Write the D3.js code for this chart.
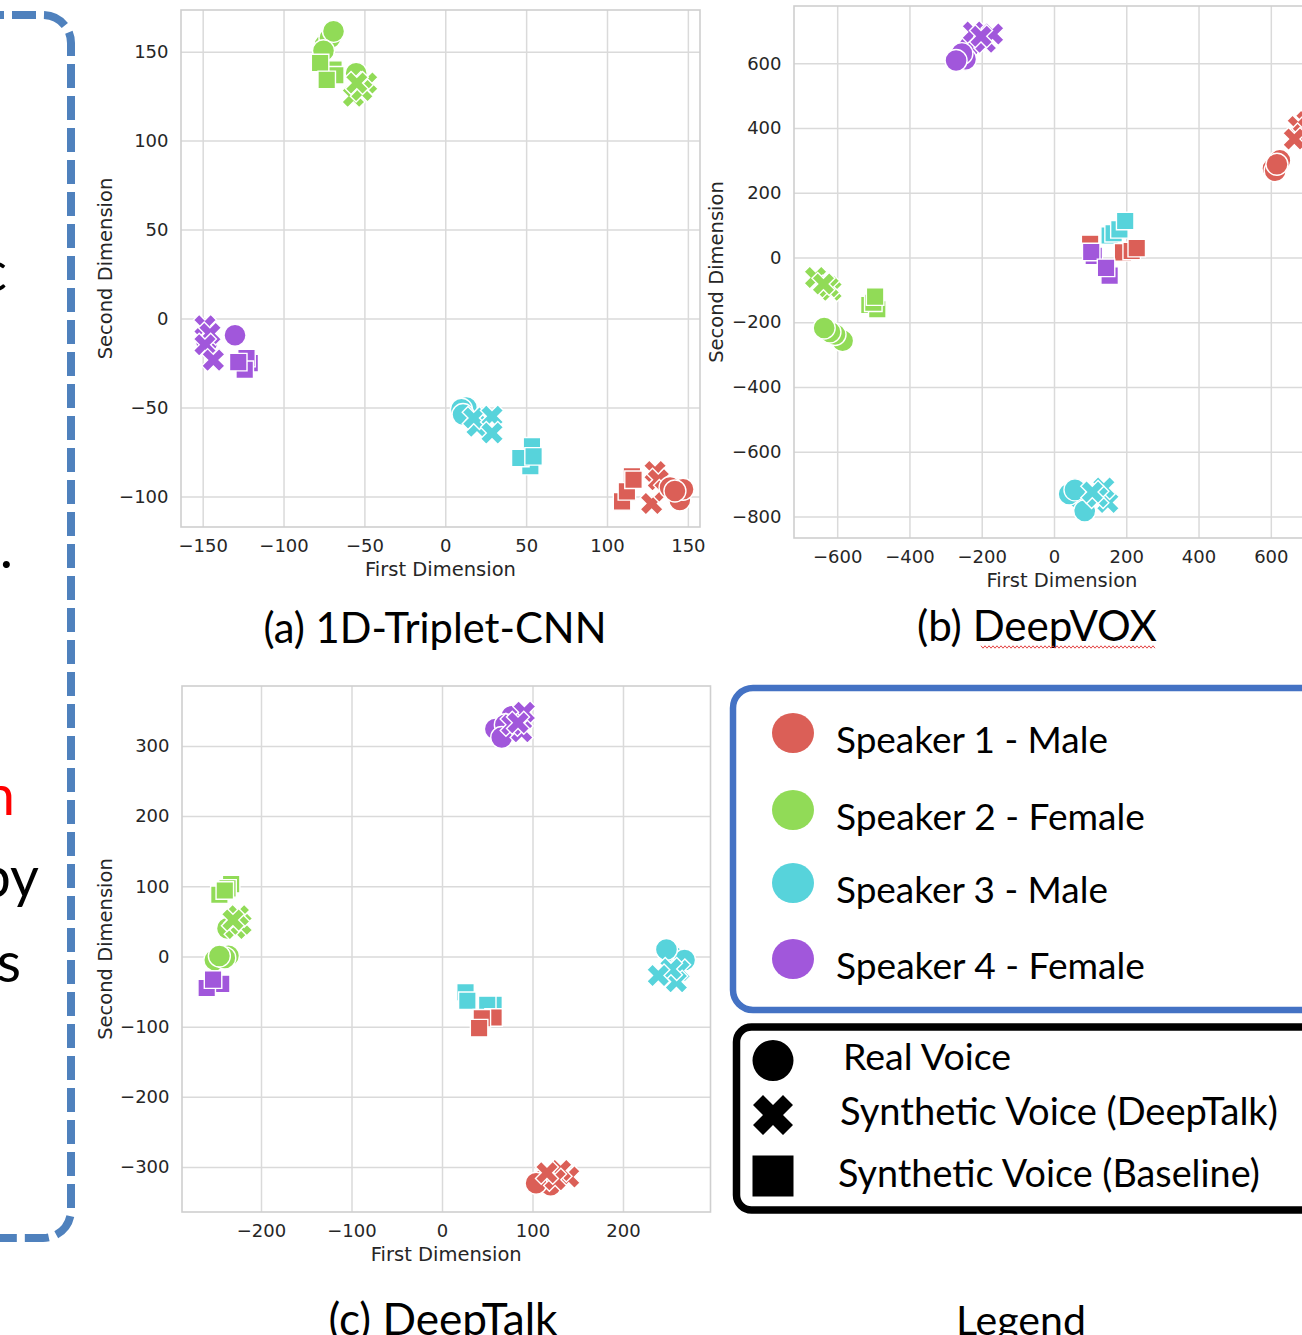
<!DOCTYPE html>
<html>
<head>
<meta charset="utf-8">
<title>Speaker embeddings</title>
<script src="https://cdn.jsdelivr.net/npm/d3@7"></script>
<style>
  html, body { margin: 0; padding: 0; background: #fff; overflow: hidden; }
  svg { display: block; }
</style>
</head>
<body>
<svg id="fig" width="1302" height="1335"></svg>
<script>
// hue = speaker, marker = voice type
const speakers = ['Speaker 1 - Male', 'Speaker 2 - Female', 'Speaker 3 - Male', 'Speaker 4 - Female'];
const speakerColors = ['#db5f57', '#91db57', '#57d3db', '#a157db'];
const voiceTypes = ['Real Voice', 'Synthetic Voice (DeepTalk)', 'Synthetic Voice (Baseline)'];
const panelTitles = ['(a) 1D-Triplet-CNN', '(b) DeepVOX', '(c) DeepTalk'];

// [speaker, voice type, first dim, second dim]
// voice type: 0 real (circle), 1 DeepTalk (X), 2 baseline (square)
const tripletPoints = [
  [1, 0, -74.4, 153.8], [1, 0, -71.3, 157.7], [1, 0, -69.1, 161.4], [1, 0, -75.3, 150.5],
  [1, 2, -69.1, 139.9], [1, 2, -68.0, 136.7], [1, 2, -77.4, 143.6], [1, 2, -73.3, 134.1],
  [1, 0, -55.1, 137.8],
  [1, 1, -48.6, 132.4], [1, 1, -56.8, 124.9], [1, 1, -51.6, 128.1], [1, 1, -54.7, 132.4],
  [3, 0, -147.5, -13.7],
  [3, 1, -148.6, -4.1], [3, 1, -145.5, -8.4], [3, 1, -148.6, -14.8], [3, 1, -143.4, -23.4],
  [3, 0, -130.0, -9.4],
  [3, 2, -120.9, -25.1], [3, 2, -122.9, -22.3], [3, 2, -124.0, -28.8], [3, 2, -128.0, -24.5],
  [2, 0, 15.0, -53.0], [2, 0, 13.0, -50.0], [2, 0, 10.0, -51.0], [2, 0, 11.0, -54.0],
  [2, 1, 19.6, -60.6], [2, 1, 17.6, -55.9], [2, 1, 28.9, -55.0], [2, 1, 28.9, -64.4],
  [2, 2, 53.6, -71.8], [2, 2, 52.6, -83.0], [2, 2, 46.4, -78.4], [2, 2, 54.6, -77.5],
  [0, 2, 109.3, -102.8], [0, 2, 115.4, -88.7], [0, 2, 112.3, -97.2], [0, 2, 116.4, -90.6],
  [0, 1, 129.7, -86.0], [0, 1, 127.6, -104.0], [0, 1, 131.7, -90.6], [0, 1, 135.9, -97.0],
  [0, 0, 145.0, -102.0], [0, 0, 147.0, -96.0], [0, 0, 139.0, -95.0], [0, 0, 142.0, -97.0]
];

const deepvoxPoints = [
  [3, 0, -234, 652], [3, 0, -245, 613], [3, 0, -255, 630], [3, 0, -271, 609],
  [3, 1, -223, 697], [3, 1, -190, 665], [3, 1, -170, 691], [3, 1, -202, 684],
  [0, 0, 606, 275], [0, 0, 612, 268], [0, 0, 625, 300], [0, 0, 617, 288],
  [0, 1, 700, 420], [0, 1, 676, 405], [0, 1, 690, 380], [0, 1, 665, 366],
  [2, 0, 70, -745], [2, 0, 42, -731], [2, 0, 58, -718], [2, 0, 85, -783],
  [2, 1, 149, -757], [2, 1, 138, -712], [2, 1, 120, -740], [2, 1, 106, -725],
  [2, 2, 154, 68], [2, 2, 165, 75], [2, 2, 181, 87], [2, 2, 197, 113],
  [0, 2, 100, 42], [0, 2, 191, 16], [0, 2, 215, 20], [0, 2, 229, 29],
  [3, 2, 154, -56], [3, 2, 110, 5], [3, 2, 103, 17], [3, 2, 144, -32],
  [1, 1, -660, -62], [1, 1, -617, -101], [1, 1, -625, -90], [1, 1, -638, -82],
  [1, 2, -511, -147], [1, 2, -489, -160], [1, 2, -500, -140], [1, 2, -495, -121],
  [1, 0, -585, -257], [1, 0, -606, -238], [1, 0, -620, -230], [1, 0, -636, -218]
];

const deeptalkPoints = [
  [3, 0, 77, 342], [3, 0, 59, 324], [3, 0, 70, 330], [3, 0, 66, 312],
  [3, 1, 91, 348], [3, 1, 88, 320], [3, 1, 77, 330], [3, 1, 84, 333],
  [1, 2, -233, 103], [1, 2, -237, 97], [1, 2, -246, 88], [1, 2, -240, 94],
  [1, 0, -237, 40],
  [1, 1, -228, 40], [1, 1, -222, 46], [1, 1, -225, 58], [1, 1, -231, 52],
  [1, 0, -236, 1], [1, 0, -251, -5], [1, 0, -240, -2], [1, 0, -246, 0.6],
  [3, 2, -244, -39], [3, 2, -260, -45], [3, 2, -253, -33],
  [2, 2, 26, -51], [2, 2, 57, -69], [2, 2, 50, -69], [2, 2, 28, -63],
  [0, 2, 57, -87], [0, 2, 44, -88], [0, 2, 41, -102],
  [2, 0, 255, 0], [2, 0, 268, -5], [2, 0, 248, 10],
  [2, 1, 262, -20], [2, 1, 259, -36], [2, 1, 253, -18], [2, 1, 239, -27],
  [0, 0, 112, -318], [0, 0, 120, -326], [0, 0, 104, -323],
  [0, 1, 140, -314], [0, 1, 131, -305], [0, 1, 125, -318], [0, 1, 116, -308]
];

// axis ticks and ranges
const tripletXTicks = [-150, -100, -50, 0, 50, 100, 150];
const tripletYTicks = [-100, -50, 0, 50, 100, 150];
const tripletXRange = [-163.4, 157.5];
const tripletYRange = [-117.2, 173.4];

const deepvoxXTicks = [-600, -400, -200, 0, 200, 400, 600];
const deepvoxYTicks = [-800, -600, -400, -200, 0, 200, 400, 600];
const deepvoxXRange = [-719.5, 763.8];
const deepvoxYRange = [-866.8, 777.2];

const deeptalkXTicks = [-200, -100, 0, 100, 200];
const deeptalkYTicks = [-300, -200, -100, 0, 100, 200, 300];
const deeptalkXRange = [-287.3, 296.7];
const deeptalkYRange = [-364.0, 385.3];

const svg = d3.select('#fig');
const gridColor = '#dadada';
const textColor = '#262626';
const calibriLike = 'Lato, "Open Sans", sans-serif';

// matplotlib style filled "X", s = full extent
function xPath(s) {
  const v = [[-0.25, -0.5], [0, -0.25], [0.25, -0.5], [0.5, -0.25], [0.25, 0], [0.5, 0.25],
             [0.25, 0.5], [0, 0.25], [-0.25, 0.5], [-0.5, 0.25], [-0.25, 0], [-0.5, -0.25]];
  return d3.line()(v.map(p => [p[0] * s, p[1] * s])) + 'Z';
}

function markerPath(type) {
  if (type === 0) return d3.symbol(d3.symbolCircle, Math.PI * 11 * 11)();
  if (type === 1) return xPath(23);
  return d3.symbol(d3.symbolSquare, 17.5 * 17.5)();
}

// shrink / grow a text so it spans the given width
function fitWidth(sel, width) {
  sel.each(function() {
    const w = this.getComputedTextLength();
    const fs = parseFloat(this.getAttribute('font-size'));
    this.setAttribute('font-size', (fs * width / w).toFixed(2));
  });
}

function drawPanel(p, idx) {
  const x = d3.scaleLinear().domain(p.xRange).range([p.left, p.right]);
  const y = d3.scaleLinear().domain(p.yRange).range([p.bottom, p.top]);
  const w = p.right - p.left, h = p.bottom - p.top;
  const g = svg.append('g');

  const gx = g.append('g')
    .attr('transform', `translate(0,${p.bottom})`)
    .call(d3.axisBottom(x).tickValues(p.xTicks).tickSize(-h).tickPadding(12).tickFormat(d3.format('d')));
  const gy = g.append('g')
    .attr('transform', `translate(${p.left},0)`)
    .call(d3.axisLeft(y).tickValues(p.yTicks).tickSize(-w).tickPadding(12.5).tickFormat(d3.format('d')));

  [gx, gy].forEach(a => {
    a.select('.domain').remove();
    a.selectAll('.tick line').attr('stroke', gridColor).attr('stroke-width', 1.5);
    a.selectAll('.tick text')
      .attr('fill', textColor)
      .attr('font-family', 'DejaVu Sans')
      .attr('font-size', 18);
  });

  g.append('rect')
    .attr('x', p.left).attr('y', p.top)
    .attr('width', w).attr('height', h)
    .attr('fill', 'none')
    .attr('stroke', '#cfcfcf')
    .attr('stroke-width', 1.6);

  const clipId = 'clip' + idx;
  svg.append('clipPath').attr('id', clipId)
    .append('rect').attr('x', p.left).attr('y', p.top).attr('width', w).attr('height', h);

  g.append('g')
    .attr('clip-path', `url(#${clipId})`)
    .selectAll('path')
    .data(p.points)
    .join('path')
    .attr('transform', d => `translate(${x(d[2])},${y(d[3])})`)
    .attr('d', d => markerPath(d[1]))
    .attr('fill', d => speakerColors[d[0]])
    .attr('stroke', '#fff')
    .attr('stroke-width', 1.4);

  g.append('text')
    .attr('x', (p.left + p.right) / 2)
    .attr('y', p.bottom + 49)
    .attr('text-anchor', 'middle')
    .attr('font-family', 'DejaVu Sans')
    .attr('font-size', 19.5)
    .attr('fill', textColor)
    .text('First Dimension');

  g.append('text')
    .attr('transform', `translate(${p.yLabelX},${(p.top + p.bottom) / 2}) rotate(-90)`)
    .attr('text-anchor', 'middle')
    .attr('font-family', 'DejaVu Sans')
    .attr('font-size', 19.5)
    .attr('fill', textColor)
    .text('Second Dimension');

  const title = g.append('text')
    .attr('x', p.titleX)
    .attr('y', p.titleY)
    .attr('text-anchor', 'middle')
    .attr('font-family', calibriLike)
    .attr('font-size', 39)
    .attr('fill', '#000')
    .text(panelTitles[idx]);
  fitWidth(title, p.titleW);
  return title;
}

const panels = [
  { points: tripletPoints, xRange: tripletXRange, yRange: tripletYRange, xTicks: tripletXTicks, yTicks: tripletYTicks,
    left: 181, right: 700, top: 10, bottom: 527, yLabelX: 112, titleX: 435, titleY: 643, titleW: 343 },
  { points: deepvoxPoints, xRange: deepvoxXRange, yRange: deepvoxYRange, xTicks: deepvoxXTicks, yTicks: deepvoxYTicks,
    left: 794, right: 1330, top: 6, bottom: 538, yLabelX: 723, titleX: 1037, titleY: 641, titleW: 240 },
  { points: deeptalkPoints, xRange: deeptalkXRange, yRange: deeptalkYRange, xTicks: deeptalkXTicks, yTicks: deeptalkYTicks,
    left: 182, right: 710.5, top: 686, bottom: 1212, yLabelX: 112, titleX: 443, titleY: 1335, titleW: 229 }
];

const titles = panels.map(drawPanel);

// spell-check squiggle under "DeepVOX"
(function() {
  const x0 = 981, x1 = 1157, yy = 647;
  const pts = d3.range(x0, x1, 2).map((px, i) => [px, yy + (i % 2 ? 1.2 : -1.2)]);
  svg.append('path').attr('d', d3.line()(pts))
    .attr('fill', 'none').attr('stroke', '#e03030').attr('stroke-width', 0.9);
})();

// ---- legend ----
const legend = svg.append('g');
legend.append('rect')
  .attr('x', 733).attr('y', 688).attr('width', 640).attr('height', 322)
  .attr('rx', 20).attr('ry', 20)
  .attr('fill', 'none').attr('stroke', '#4472c4').attr('stroke-width', 6.5);

const speakerRowY = [733, 810, 883, 959];
const speakerTextW = [272, 309, 272, 309];
speakers.forEach((s, i) => {
  legend.append('ellipse')
    .attr('cx', 793).attr('cy', speakerRowY[i])
    .attr('rx', 21).attr('ry', 20)
    .attr('fill', speakerColors[i]);
  const t = legend.append('text')
    .attr('x', 836).attr('y', speakerRowY[i] + 19.5)
    .attr('font-family', calibriLike).attr('font-size', 37)
    .attr('fill', '#000')
    .text(s);
  fitWidth(t, speakerTextW[i]);
});

legend.append('rect')
  .attr('x', 736.5).attr('y', 1027).attr('width', 640).attr('height', 183)
  .attr('rx', 15).attr('ry', 15)
  .attr('fill', 'none').attr('stroke', '#000').attr('stroke-width', 7.5);

const voiceRowY = [1060.5, 1115, 1176];
const voiceTextX = [843, 840, 838];
const voiceTextW = [168, 438, 422];
const voiceBaseline = [1069.5, 1124.5, 1187];
voiceTypes.forEach((v, i) => {
  legend.append('path')
    .attr('transform', `translate(773,${voiceRowY[i]})`)
    .attr('d', i === 0 ? d3.symbol(d3.symbolCircle, Math.PI * 20.5 * 20.5)()
             : i === 1 ? xPath(40)
             : d3.symbol(d3.symbolSquare, 41 * 41)())
    .attr('fill', '#000');
  const t = legend.append('text')
    .attr('x', voiceTextX[i]).attr('y', voiceBaseline[i])
    .attr('font-family', calibriLike).attr('font-size', 37)
    .attr('fill', '#000')
    .text(v);
  fitWidth(t, voiceTextW[i]);
});

const legendTitle = legend.append('text')
  .attr('x', 1021).attr('y', 1335)
  .attr('text-anchor', 'middle')
  .attr('font-family', calibriLike).attr('font-size', 39)
  .attr('fill', '#000')
  .text('Legend');
fitWidth(legendTitle, 130);

// ---- dashed frame of the neighbouring panel, cut at the left edge ----
svg.append('path')
  .attr('d', 'M -20 15 H 43 A 28 28 0 0 1 71 43 V 1210 A 28 28 0 0 1 43 1238 H -20')
  .attr('fill', 'none')
  .attr('stroke', '#4f81bd')
  .attr('stroke-width', 8)
  .attr('stroke-dasharray', '24 8');

const cutText = [
  { t: 'c', x: 7, y: 291, c: '#000' },
  { t: '.', x: 13, y: 568, c: '#000' },
  { t: 'n', x: 15, y: 815, c: '#ff0000' },
  { t: 'by', x: 39, y: 897, c: '#000' },
  { t: 's', x: 21, y: 982, c: '#000' }
];
svg.append('g').selectAll('text')
  .data(cutText)
  .join('text')
  .attr('x', d => d.x).attr('y', d => d.y)
  .attr('text-anchor', 'end')
  .attr('font-family', calibriLike)
  .attr('font-size', 56)
  .attr('fill', d => d.c)
  .text(d => d.t);
</script>
</body>
</html>
